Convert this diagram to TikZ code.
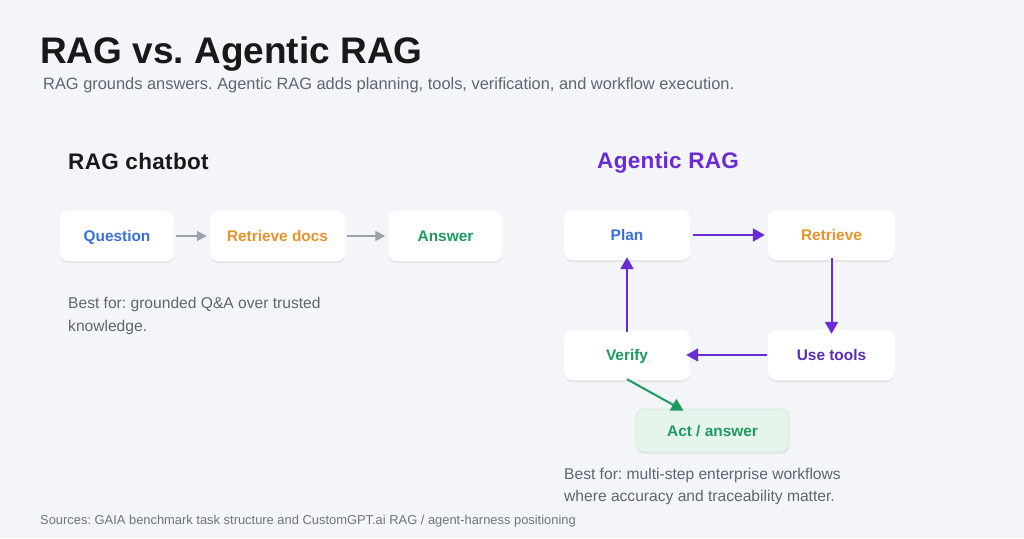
\documentclass[tikz,border=0pt]{standalone}
\usepackage{fontspec}
\setmainfont{Liberation Sans}
\newfontfamily\headfont[LetterSpace=1.5]{Liberation Sans}
\usetikzlibrary{shadows,arrows.meta}
\frenchspacing
\definecolor{bg}{HTML}{F3F5F9}
\definecolor{tblue}{HTML}{3A6FD8}
\definecolor{torange}{HTML}{E8922C}
\definecolor{tgreen}{HTML}{1D9A5E}
\definecolor{tpurple}{HTML}{6A2BD6}
\definecolor{upurple}{HTML}{5A2DB5}
\definecolor{agray}{HTML}{9BA1AB}
\definecolor{txtgray}{HTML}{5E6670}
\definecolor{actfill}{HTML}{E6F5EC}
\definecolor{actdraw}{HTML}{CFEBDB}
\tikzset{
  card/.style={draw=none, fill=white, rounded corners=8pt, minimum height=50pt,
    text height=11pt, text depth=0pt,
    font=\fontsize{15.4}{17}\selectfont\bfseries,
    drop shadow={shadow xshift=0pt, shadow yshift=-2pt, opacity=0.06, fill=black}},
  grayarrow/.style={draw=agray, line width=1.8pt, -{Triangle[length=10pt,width=10pt]}},
  purarrow/.style={draw=tpurple, line width=2pt, -{Triangle[length=12pt,width=13pt]}},
  greenarrow/.style={draw=tgreen, line width=2pt, -{Triangle[length=12pt,width=13pt]}},
  note/.style={anchor=base west, text=txtgray, font=\fontsize{15.6}{18}\selectfont, inner sep=0pt},
}
\begin{document}
\begin{tikzpicture}[x=1pt,y=-1pt]
\fill[bg] (0,0) rectangle (1024,538);
\useasboundingbox (0,0) rectangle (1024,538);

\node[anchor=base west, inner sep=0pt, font=\fontsize{37}{42}\selectfont\bfseries, text=black!90] (title) at (40,63) {RAG vs. Agentic RAG};
\node[anchor=base west, inner sep=0pt, font=\fontsize{16.4}{19}\selectfont, text=txtgray] (sub) at (43,89) {RAG grounds answers. Agentic RAG adds planning, tools, verification, and workflow execution.};

% left
\node[anchor=base west, inner sep=0pt, font=\headfont\fontsize{22.5}{26}\selectfont\bfseries, text=black!90] (lh) at (68,169) {RAG chatbot};
\node[card, minimum width=114pt, text=tblue] (q) at (117,236) {Question};
\node[card, minimum width=135pt, text=torange] (rd) at (277.5,236) {Retrieve docs};
\node[card, minimum width=114pt, text=tgreen] (ans) at (445.5,236) {Answer};
\draw[grayarrow] ([xshift=2pt]q.east) -- ([xshift=-3pt]rd.west);
\draw[grayarrow] ([xshift=2pt]rd.east) -- ([xshift=-3pt]ans.west);
\node[note] (n1) at (68,308) {Best for: grounded Q\&A over trusted};
\node[note] (n2) at (68,331) {knowledge.};

% right
\node[anchor=base west, inner sep=0pt, font=\headfont\fontsize{22.5}{26}\selectfont\bfseries, text=tpurple] (rh) at (597,168) {Agentic RAG};
\node[card, minimum width=126pt, text=tblue] (plan) at (627,235) {Plan};
\node[card, minimum width=127pt, text=torange] (ret) at (831.5,235) {Retrieve};
\node[card, minimum width=126pt, text=tgreen] (ver) at (627,355) {Verify};
\node[card, minimum width=127pt, text=upurple] (use) at (831.5,355) {Use tools};
\node[card, minimum width=153pt, minimum height=43pt, fill=actfill, draw=actdraw, line width=0.8pt, text=tgreen] (act) at (712.5,430.5) {Act / answer};
\draw[purarrow] ([xshift=3pt]plan.east) -- ([xshift=-3pt]ret.west);
\draw[purarrow] ([yshift=2pt]ret.south) -- ([yshift=-4pt]use.north);
\draw[purarrow] ([xshift=-1pt]use.west) -- ([xshift=-4pt]ver.east);
\draw[purarrow] ([yshift=-2pt]ver.north) -- ([yshift=3pt]plan.south);
\draw[greenarrow] ([yshift=1pt]ver.south) -- ([xshift=-29pt,yshift=-2pt]act.north);
\node[note] (n3) at (564,479) {Best for: multi-step enterprise workflows};
\node[note] (n4) at (564,501) {where accuracy and traceability matter.};

\node[anchor=base west, inner sep=0pt, font=\fontsize{12.9}{15}\selectfont, text=txtgray!90] (src) at (40,524) {Sources: GAIA benchmark task structure and CustomGPT.ai RAG / agent-harness positioning};
\end{tikzpicture}
\end{document}
